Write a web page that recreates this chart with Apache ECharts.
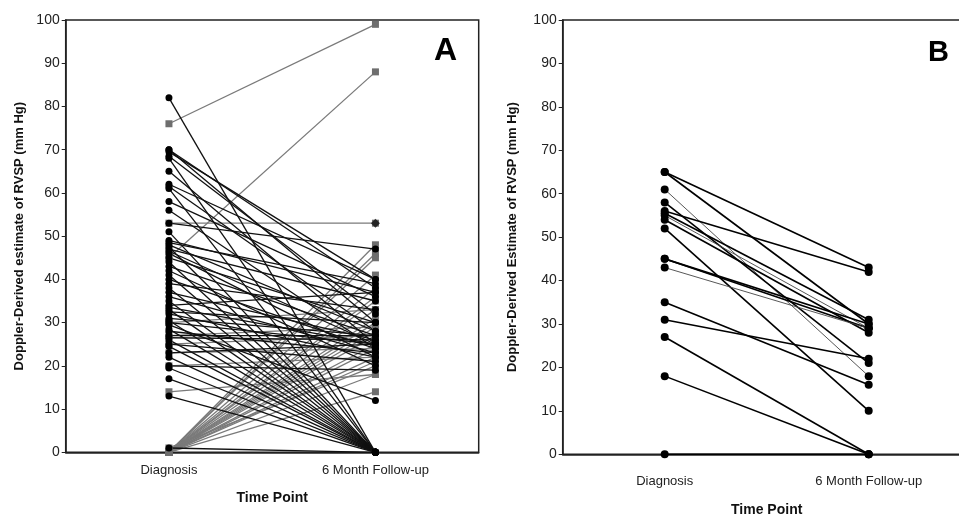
<!DOCTYPE html>
<html>
<head>
<meta charset="utf-8">
<script src="https://cdn.jsdelivr.net/npm/echarts@6/dist/echarts.min.js"></script>
<style>
html,body{margin:0;padding:0;background:#fff;}
#c{width:959px;height:515px;}
</style>
</head>
<body>
<div id="c"></div>
<script>
// ---- data ----
var categories = ['Diagnosis', '6 Month Follow-up'];
var yTicks = [0,10,20,30,40,50,60,70,80,90,100];

// Panel A: black (circle) subjects, diagnosis -> follow-up
var aBlackStart = [82,70,70,69.5,68.5,68,65,62,61.5,61,58,56,53,51,49,48.5,48,47.5,47,46.5,46,45,44,43,42,41,40,39,38,37,36,35,34,33.5,33,32.5,32,31,30.5,30,29.5,28.5,28,27,26.5,26,25,24.5,23,22,20,19.5,17,13,1];
var aBlackEnd   = [0,30,38,40,32,0,25,40,28,0,36,24,47,0,37,39,28,0,35,25,22,30,0,27,20,0,24,33,0,26,23,0,37,25,0,30,22,27,0,25,12,0,23,27,26,0,21,0,25,0,19,0,0,0,0];

// Panel A: grey (square) subjects
var aGreyStart = [76,45,53,0,0,0,0,0,0,0,0,0,0,0,0,0,0,0,0,0,0,0,14,25,27,23,30,20,1];
var aGreyEnd   = [99,88,53,48,46,45,41,38,36,35,33,31,30,29,28,27,25,24,22,21,18,14,18,27,29,24,33,22,20];

// Panel B subjects
var bStart = [65,65,61,58,56,55.5,55,54,52,45,45,43,35,31,27,18,0];
var bEnd   = [43,30,18,21,42,31,29,28,10,30,29,29,16,22,0,0,0];
var bThin  = [0,0,1,0,0,0,1,0,0,0,0,1,0,0,0,0,0];

// ---- build ----
var FONT = '"Liberation Sans", Arial, sans-serif';
var series = [];
function addLine(gi, s, e, color, width, symbol, symColor, symSize){
  series.push({
    type:'line', xAxisIndex:gi, yAxisIndex:gi,
    data:[s, e], symbol:symbol, symbolSize:symSize, showSymbol:true,
    lineStyle:{color:color, width:width},
    itemStyle:{color:symColor, borderWidth:0},
    animation:false, silent:true, z:2
  });
}
for (var i=0;i<aGreyStart.length;i++) addLine(0, aGreyStart[i], aGreyEnd[i], '#7a7a7a', 1.3, 'rect', '#6e6e6e', 7);
for (var i=0;i<aBlackStart.length;i++) addLine(0, aBlackStart[i], aBlackEnd[i], '#111', 1.3, 'circle', '#000', 7);
// diamond marker at 53
series.push({type:'scatter', xAxisIndex:0, yAxisIndex:0, data:[[1,53]], symbol:'diamond', symbolSize:9, itemStyle:{color:'#111'}, z:3, animation:false});
for (var i=0;i<bStart.length;i++) addLine(1, bStart[i], bEnd[i], bThin[i]?'#444':'#000', bThin[i]?0.9:1.6, 'circle', '#000', 8);

function yAxis(gi, name, gap){
  return {
    type:'value', gridIndex:gi, min:0, max:100, interval:10,
    name:name, nameLocation:'middle', nameGap:gap, nameRotate:90,
    nameTextStyle:{fontFamily:FONT, fontWeight:'bold', fontSize:13, color:'#111'},
    axisLine:{show:true, lineStyle:{color:'#222', width:1.5}},
    axisTick:{show:true, length:4, lineStyle:{color:'#222'}},
    axisLabel:{fontFamily:FONT, fontSize:14, color:'#222', margin:6},
    splitLine:{show:false}
  };
}
function xAxis(gi, margin, gap){
  return {
    type:'category', gridIndex:gi, data:categories, boundaryGap:true,
    name:'Time Point', nameLocation:'middle', nameGap:gap,
    nameTextStyle:{fontFamily:FONT, fontWeight:'bold', fontSize:14, color:'#111'},
    axisLine:{show:true, onZero:false, lineStyle:{color:'#222', width:1.5}},
    axisTick:{show:false},
    axisLabel:{fontFamily:FONT, fontSize:13, color:'#222', margin:margin},
    splitLine:{show:false}
  };
}

var chart = echarts.init(document.getElementById('c'));
chart.setOption({
  backgroundColor:'#fff',
  animation:false,
  grid:[
    {left:65.7, top:20, width:413, height:432.3, show:true, borderColor:'#222', borderWidth:1.5, backgroundColor:'transparent', outerBoundsMode:'none', containLabel:false},
    {left:562.7, top:20, width:408, height:434.3, show:true, borderColor:'#222', borderWidth:1.5, backgroundColor:'transparent', outerBoundsMode:'none', containLabel:false}
  ],
  xAxis:[xAxis(0, 12, 39), xAxis(1, 21, 49)],
  yAxis:[yAxis(0, 'Doppler-Derived estimate of RVSP (mm Hg)', 40), yAxis(1, 'Doppler-Derived Estimate of RVSP (mm Hg)', 44)],
  graphic:[
    {type:'text', left:434, top:35, style:{text:'A', fontFamily:FONT, fontWeight:'bold', fontSize:32, fill:'#000'}},
    {type:'text', left:928, top:38, style:{text:'B', fontFamily:FONT, fontWeight:'bold', fontSize:29, fill:'#000'}}
  ],
  series:series
});
</script>
</body>
</html>
